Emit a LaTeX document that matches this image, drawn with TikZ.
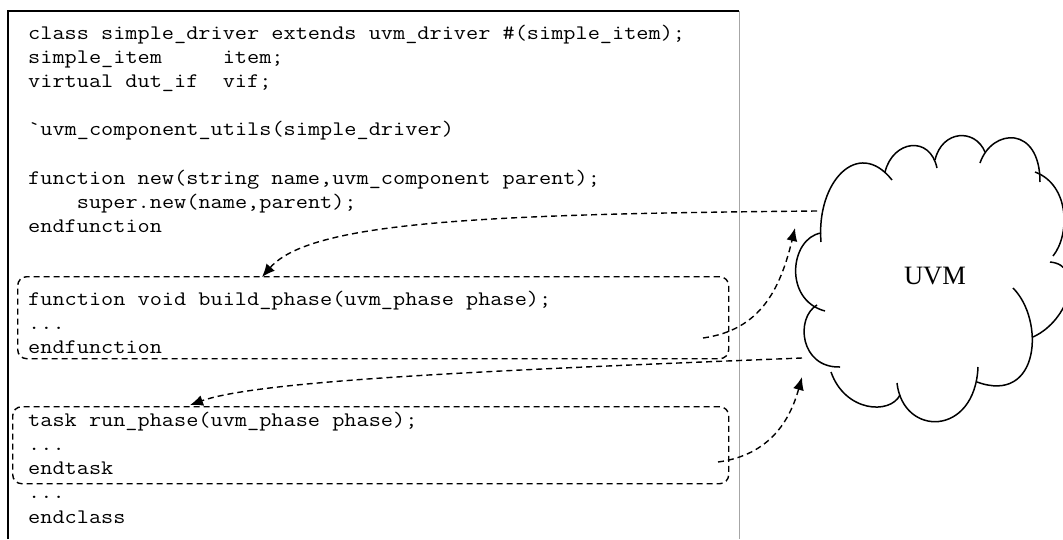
\documentclass[tikz,border=0pt]{standalone}
\usepackage{fontspec}
\setmainfont{Liberation Serif}
\setmonofont{Latin Modern Mono}[FakeStretch=1.1428]
\usetikzlibrary{arrows.meta}
\begin{document}
\begin{tikzpicture}[x=1pt,y=-1pt,
  codeline/.style={anchor=base west, inner sep=0pt, font=\ttfamily\fontsize{20.67}{24}\selectfont},
  dbox/.style={draw, dash pattern=on 6pt off 4pt, line width=1.4pt, rounded corners=9pt, anchor=north west, inner sep=0pt},
  flow/.style={line width=1.4pt, dash pattern=on 6pt off 4pt, -{Latex[length=13pt,width=11pt]}},
  bump/.style={line width=1.5pt},
  frame/.style={line width=1.3pt},
  sideframe/.style={draw=black!35, line width=1pt}]
\useasboundingbox (0,0) rectangle (1063,539);
% code frame
\draw[frame] (8,539) -- (8,11) -- (739,11);
\draw[sideframe] (739,11) -- (739,539);
% dashed boxes
\node[dbox, minimum width=711pt, minimum height=82pt] (buildbox) at (17,276) {};
\node[dbox, minimum width=716pt, minimum height=77pt] (runbox) at (12,406) {};
% code lines
\node[codeline] (l0) at (28,39) {class~simple\_driver~extends~uvm\_driver~\#(simple\_item);};
\node[codeline] (l1) at (28,63.2) {simple\_item~~~~~item;};
\node[codeline] (l2) at (28,87.4) {virtual~dut\_if~~vif;};
\node[codeline] (l4) at (28,135.8) {\char96 uvm\_component\_utils(simple\_driver)};
\node[codeline] (l6) at (28,184.2) {function~new(string~name,uvm\_component~parent);};
\node[codeline] (l7) at (28,208.4) {~~~~super.new(name,parent);};
\node[codeline] (l8) at (28,232.6) {endfunction};
\node[codeline] (l11) at (28,305.2) {function~void~build\_phase(uvm\_phase~phase);};
\node[codeline] (l12) at (28,329.4) {...};
\node[codeline] (l13) at (28,353.6) {endfunction};
\node[codeline] (l16) at (28,426.2) {task~run\_phase(uvm\_phase~phase);};
\node[codeline] (l17) at (28,450.4) {...};
\node[codeline] (l18) at (28,474.6) {endtask};
\node[codeline] (l19) at (28,498.8) {...};
\node[codeline] (l20) at (28,523) {endclass};
% cloud
\draw[bump] (821,242) .. controls (816,182) and (858,137) .. (892,180);
\draw[bump] (885,172) .. controls (893,140) and (930,135) .. (937,168);
\draw[bump] (935,160) .. controls (942,130) and (975,128) .. (985,152);
\draw[bump] (980,163) .. controls (992,128) and (1040,125) .. (1040,182);
\draw[bump] (1035,172) .. controls (1070,185) and (1070,235) .. (1053,256);
\draw[bump] (1050,262) .. controls (1085,265) and (1070,320) .. (1033,337);
\draw[bump] (1013,288) .. controls (1045,320) and (1040,405) .. (977,382);
\draw[bump] (978,367) .. controls (975,437) and (903,437) .. (897,383);
\draw[bump] (900,395) .. controls (890,415) and (845,412) .. (831,372);
\draw[bump] (817,305) .. controls (795,318) and (800,368) .. (840,367);
\draw[bump] (821,233) .. controls (790,238) and (783,300) .. (825,311);
\node[font=\fontsize{26.5}{30}\selectfont, inner sep=0pt] (uvm) at (935,276) {UVM};
% connectors
\coordinate (aS) at (817,211);
\coordinate (aE) at (262,277);
\coordinate (bS) at (703,338);
\coordinate (bE) at (795,228);
\coordinate (cS) at (802,358);
\coordinate (cE) at (190,405);
\coordinate (dS) at (718,462);
\coordinate (dE) at (802,377);
\draw[flow] (aS) .. controls (480,214) and (310,222) .. (aE);
\draw[flow] (bS) .. controls (760,330) and (780,290) .. (bE);
\draw[flow] (cS) .. controls (500,370) and (260,380) .. (cE);
\draw[flow] (dS) .. controls (770,455) and (790,420) .. (dE);
\end{tikzpicture}
\end{document}
